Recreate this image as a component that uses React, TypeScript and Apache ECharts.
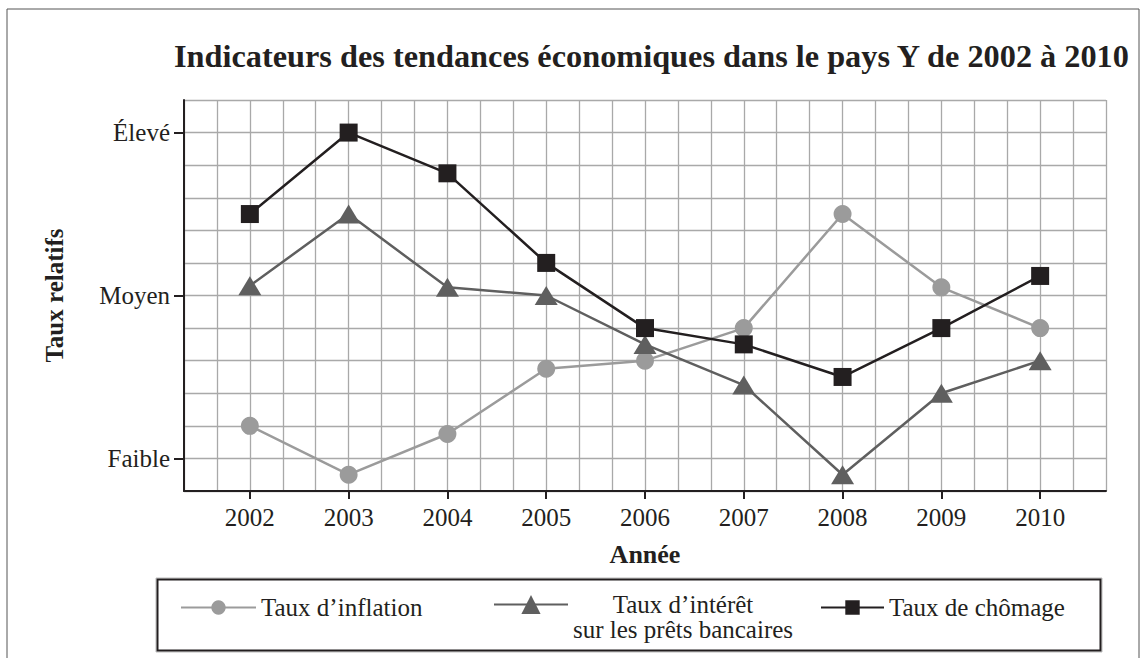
import React, { useEffect, useRef } from "react";
import * as echarts from "echarts";

const years = [2002, 2003, 2004, 2005, 2006, 2007, 2008, 2009, 2010];
// Relative values: Faible = 0, Moyen = 5, Élevé = 10 (one grid cell = 1)
const inflation = [1.0, -0.5, 0.75, 2.75, 3.0, 4.0, 7.5, 5.25, 4.0];
const interest = [5.3, 7.5, 5.25, 5.0, 3.5, 2.25, -0.5, 2.0, 3.0];
const unemployment = [7.5, 10.0, 8.75, 6.0, 4.0, 3.5, 2.5, 4.0, 5.6];

const levelValues = [0, 5, 10];
const levelLabels = ["Faible", "Moyen", "Élevé"];

const seriesNames = [
  "Taux d’inflation",
  "Taux d’intérêt sur les prêts bancaires",
  "Taux de chômage",
];

const title = "Indicateurs des tendances économiques dans le pays Y de 2002 à 2010";

const CELLS_PER_YEAR = 3;
const FIRST_YEAR = years[0];
const toCell = (yr: number) => (yr - FIRST_YEAR) * CELLS_PER_YEAR;
const toYear = (c: number) => FIRST_YEAR + c / CELLS_PER_YEAR;

const FONT = "'Liberation Serif', 'Times New Roman', 'DejaVu Serif', serif";
const INK = "#231f20";
const GRID = "#a9a9a9";

const X_MIN = -2;
const X_MAX = toCell(years[years.length - 1]) + 2;
const Y_MIN = -1;
const Y_MAX = 11;

export default function App() {
  const ref = useRef<HTMLDivElement>(null);

  useEffect(() => {
    if (!ref.current) return;
    const chart = echarts.init(ref.current, undefined, { renderer: "svg" });

    const mk = (vals: number[]) => years.map((y, i) => [toCell(y), vals[i]]);

    const legendCommon = {
      orient: "horizontal",
      selectedMode: false,
      padding: 0,
      textStyle: { fontFamily: FONT, fontSize: 25, color: INK },
    };

    const gridAxisCommon = {
      type: "value",
      interval: 1,
      axisLine: { show: false },
      axisTick: { show: false },
      axisLabel: { show: false },
      splitLine: { show: true, lineStyle: { color: GRID, width: 1.3 } },
      z: 0,
    };

    chart.setOption({
      animation: false,
      backgroundColor: "#ffffff",
      title: {
        text: title,
        left: 174,
        top: 40,
        padding: 0,
        textStyle: { fontFamily: FONT, fontSize: 32.3, fontWeight: "bold", color: INK },
      },
      grid: {
        left: 184,
        right: 39,
        top: 100,
        bottom: 167,
        containLabel: false,
        outerBoundsMode: "none",
      },
      xAxis: [
        {
          type: "value",
          min: X_MIN,
          max: X_MAX,
          interval: 1,
          position: "bottom",
          name: "Année",
          nameLocation: "middle",
          nameGap: 50,
          nameTextStyle: { fontFamily: FONT, fontSize: 26, fontWeight: "bold", color: INK },
          axisLine: { show: true, onZero: false, lineStyle: { color: INK, width: 2 } },
          axisTick: {
            show: true,
            length: 8,
            inside: false,
            customValues: years.map(toCell),
            lineStyle: { color: INK, width: 2 },
          },
          axisLabel: {
            customValues: years.map(toCell),
            formatter: (v: number) => String(Math.round(toYear(v))),
            fontFamily: FONT,
            fontSize: 25,
            color: INK,
            margin: 14,
          },
          splitLine: { show: false },
          z: 5,
        },
        { ...gridAxisCommon, min: X_MIN, max: X_MAX, position: "top" },
      ],
      yAxis: [
        {
          type: "value",
          min: Y_MIN,
          max: Y_MAX,
          interval: 1,
          position: "left",
          name: "Taux relatifs",
          nameLocation: "middle",
          nameRotate: 90,
          nameGap: 117,
          nameTextStyle: { fontFamily: FONT, fontSize: 25, fontWeight: "bold", color: INK },
          axisLine: { show: true, onZero: false, lineStyle: { color: INK, width: 2 } },
          axisTick: {
            show: true,
            length: 10,
            customValues: levelValues,
            lineStyle: { color: INK, width: 2 },
          },
          axisLabel: {
            customValues: levelValues,
            formatter: (v: number) => levelLabels[levelValues.indexOf(v)] ?? "",
            fontFamily: FONT,
            fontSize: 25,
            color: INK,
            margin: 14,
          },
          splitLine: { show: false },
          z: 5,
        },
        { ...gridAxisCommon, min: Y_MIN, max: Y_MAX, position: "right" },
      ],
      legend: [
        {
          ...legendCommon,
          data: [seriesNames[0]],
          left: 180,
          top: 595,
          itemWidth: 75,
          itemHeight: 18,
        },
        {
          ...legendCommon,
          data: [seriesNames[1]],
          left: 493,
          top: 592,
          itemWidth: 74,
          itemHeight: 24,
          formatter: () => "{a|Taux d’intérêt}\n{a|sur les prêts bancaires}",
          textStyle: {
            fontFamily: FONT,
            fontSize: 25,
            color: INK,
            padding: [25, 0, 0, 0],
            rich: {
              a: { fontFamily: FONT, fontSize: 25, color: INK, lineHeight: 25, align: "center" },
            },
          },
        },
        {
          ...legendCommon,
          data: [seriesNames[2]],
          left: 820,
          top: 595,
          itemWidth: 63,
          itemHeight: 18,
        },
      ],
      graphic: [
        {
          type: "rect",
          silent: true,
          shape: { x: 7, y: 9, width: 1132, height: 700 },
          style: { fill: "none", stroke: "#555555", lineWidth: 1 },
        },
        {
          type: "rect",
          silent: true,
          shape: { x: 156, y: 578, width: 946, height: 74 },
          style: { fill: "none", stroke: "#bbbbbb", lineWidth: 1 },
        },
        {
          type: "rect",
          silent: true,
          shape: { x: 157.5, y: 579.5, width: 943, height: 71 },
          style: { fill: "none", stroke: INK, lineWidth: 2 },
        },
      ],
      series: [
        {
          name: seriesNames[0],
          type: "line",
          data: mk(inflation),
          symbol: "circle",
          symbolSize: 18,
          color: "#9b9b9b",
          lineStyle: { color: "#9b9b9b", width: 2.5 },
          itemStyle: { color: "#9b9b9b" },
          z: 3,
        },
        {
          name: seriesNames[1],
          type: "line",
          data: mk(interest),
          symbol: "triangle",
          symbolSize: [23, 19],
          color: "#5f5f5f",
          lineStyle: { color: "#5f5f5f", width: 2.5 },
          itemStyle: { color: "#5f5f5f" },
          z: 4,
        },
        {
          name: seriesNames[2],
          type: "line",
          data: mk(unemployment),
          symbol: "rect",
          symbolSize: 18,
          color: INK,
          lineStyle: { color: INK, width: 2.5 },
          itemStyle: { color: INK },
          z: 5,
        },
      ],
    });

    return () => chart.dispose();
  }, []);

  return (
    <div
      ref={ref}
      style={{ position: "absolute", left: 0, top: 0, width: 1145, height: 658 }}
    />
  );
}
